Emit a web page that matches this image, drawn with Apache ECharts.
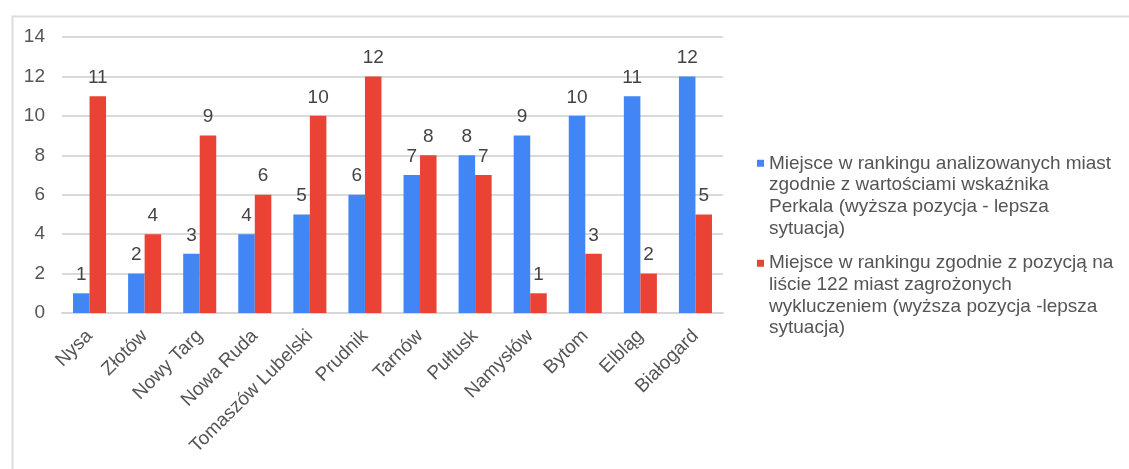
<!DOCTYPE html>
<html>
<head>
<meta charset="utf-8">
<script src="https://cdn.jsdelivr.net/npm/echarts@6/dist/echarts.min.js"></script>
<style>html,body{margin:0;padding:0;background:#fff;}#c{width:1129px;height:469px;}</style>
</head>
<body>
<div id="c"></div>
<script>
const categories = ['Nysa','Złotów','Nowy Targ','Nowa Ruda','Tomaszów Lubelski','Prudnik','Tarnów','Pułtusk','Namysłów','Bytom','Elbląg','Białogard'];
const perkalRank = [1,2,3,4,5,6,7,8,9,10,11,12];
const listRank = [11,4,9,6,10,12,8,7,1,3,2,5];
const seriesNames = [
  'Miejsce w rankingu analizowanych miast zgodnie z wartościami wskaźnika Perkala (wyższa pozycja - lepsza sytuacja)',
  'Miejsce w rankingu zgodnie z pozycją na liście 122 miast zagrożonych wykluczeniem (wyższa pozycja -lepsza sytuacja)'
];
const legendLines = {};
legendLines[seriesNames[0]] = 'Miejsce w rankingu analizowanych miast\nzgodnie z wartościami wskaźnika\nPerkala (wyższa pozycja - lepsza\nsytuacja)';
legendLines[seriesNames[1]] = 'Miejsce w rankingu zgodnie z pozycją na\nliście 122 miast zagrożonych\nwykluczeniem (wyższa pozycja -lepsza\nsytuacja)';
const yTicks = {min: 0, max: 14, interval: 2};

const FONT = '"Liberation Sans", Arial, sans-serif';
const FS = 19;
const LH = 21.7;
const chart = echarts.init(document.getElementById('c'), null, {renderer: 'canvas'});
// tall icon box (4 text lines high) with the square drawn at the first line
const boxH = LH * 4;
const sqTop = LH / 2 - 3.5;
const iconPath = 'path://M0,0 L0.001,0 L0.001,0.001 Z M0,' + sqTop + ' L7,' + sqTop + ' L7,' + (sqTop + 7) + ' L0,' + (sqTop + 7) + ' Z M0,' + boxH + ' L0.001,' + boxH + ' L0.001,' + (boxH - 0.001) + ' Z';
chart.setOption({
  animation: false,
  backgroundColor: '#fff',
  graphic: [{
    type: 'rect', left: 10, top: 14, z: -1,
    shape: {width: 1200, height: 500},
    style: {fill: 'none', stroke: '#dcdcdc', lineWidth: 2}
  }],
  legend: {
    orient: 'vertical', left: 757, top: 152.5, padding: 0,
    itemWidth: 7, itemHeight: boxH, itemGap: 13, icon: iconPath,
    formatter: n => legendLines[n],
    textStyle: {fontFamily: FONT, fontSize: FS, color: '#555', lineHeight: LH},
    selectedMode: false
  },
  grid: {left: 62, right: 406, top: 37, bottom: 156, containLabel: false, outerBoundsMode: 'none'},
  xAxis: {
    type: 'category', data: categories,
    axisLine: {lineStyle: {color: '#d6d6d6', width: 2}},
    axisTick: {show: false},
    axisLabel: {rotate: 45, fontFamily: FONT, fontSize: FS, color: '#555', margin: 20, interval: 0}
  },
  yAxis: {
    type: 'value', min: yTicks.min, max: yTicks.max, interval: yTicks.interval,
    axisLine: {show: false}, axisTick: {show: false},
    axisLabel: {fontFamily: FONT, fontSize: FS, color: '#555', margin: 17},
    splitLine: {lineStyle: {color: '#dadada', width: 2}}
  },
  series: [
    {name: seriesNames[0], type: 'bar', data: perkalRank, barGap: '0%', barCategoryGap: '40%',
     itemStyle: {color: '#4285F4'},
     label: {show: true, position: 'top', distance: 9, fontFamily: FONT, fontSize: FS, color: '#444'}},
    {name: seriesNames[1], type: 'bar', data: listRank, barGap: '0%', barCategoryGap: '40%',
     itemStyle: {color: '#EA4335'},
     label: {show: true, position: 'top', distance: 9, fontFamily: FONT, fontSize: FS, color: '#444'}}
  ]
});
</script>
</body>
</html>
